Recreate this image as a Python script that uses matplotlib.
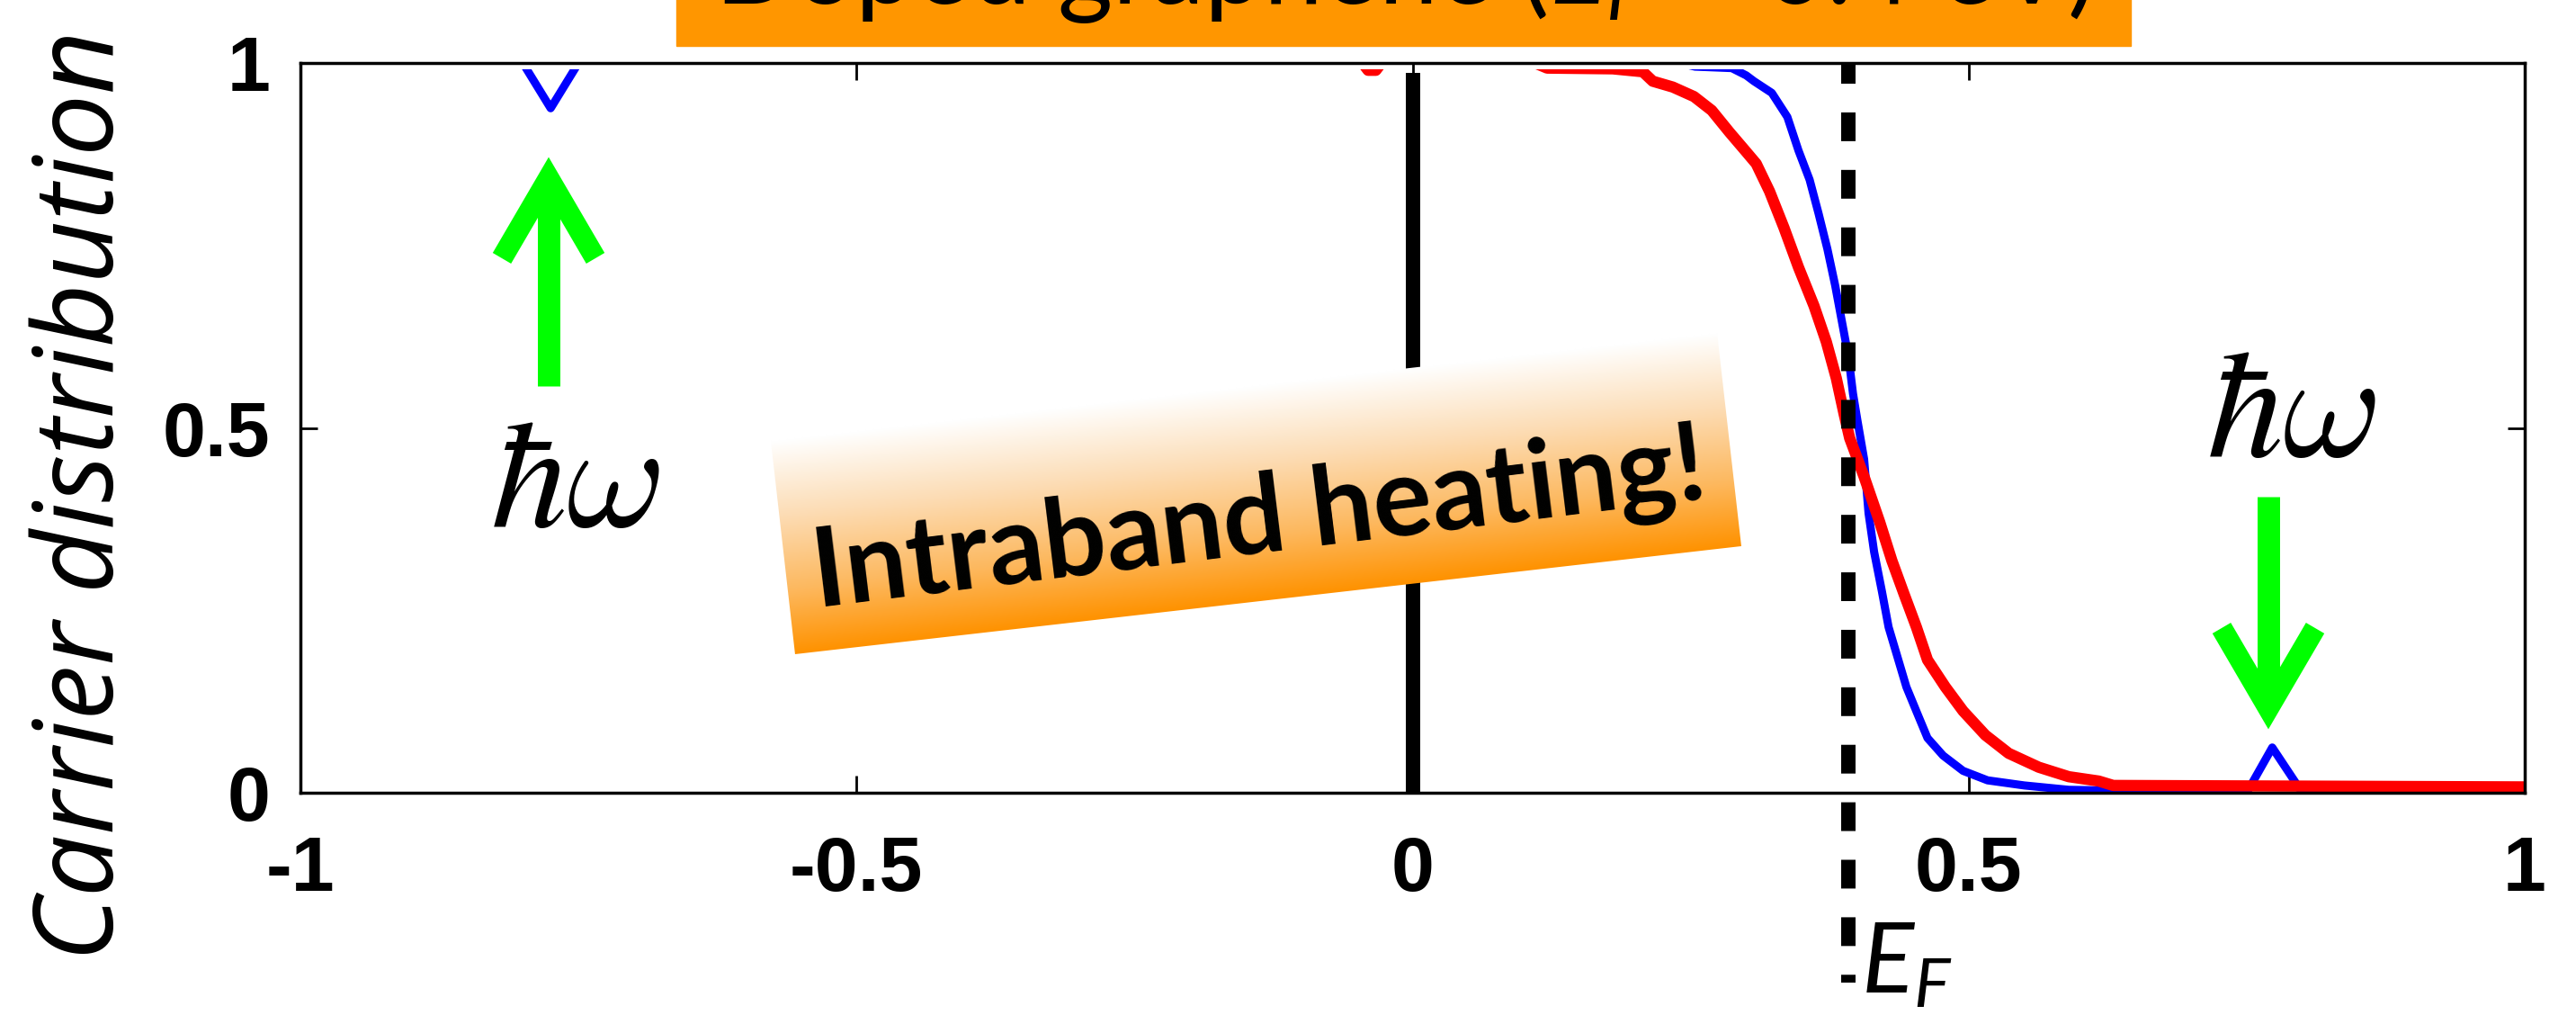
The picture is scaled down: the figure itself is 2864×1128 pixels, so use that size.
import numpy as np
import matplotlib.pyplot as plt
from matplotlib.patches import Rectangle
from matplotlib.transforms import Affine2D, blended_transform_factory
from matplotlib.colors import LinearSegmentedColormap

plt.rcParams['mathtext.fontset'] = 'custom'
plt.rcParams['mathtext.it'] = 'Lato:italic'
plt.rcParams['mathtext.rm'] = 'Lato'

# carrier distribution (energy in eV)
energy_blue = [-1.0, -0.80, -0.775, -0.75, 0.240, 0.254, 0.287, 0.300, 0.307, 0.323,
               0.337, 0.347, 0.357, 0.365, 0.373, 0.380, 0.386, 0.392, 0.396, 0.400,
               0.406, 0.410, 0.415, 0.422, 0.428, 0.436, 0.444, 0.454, 0.463, 0.477,
               0.495, 0.517, 0.550, 0.590, 0.750, 0.773, 0.800, 1.0]
dist_blue = [1.0, 1.0, 0.938, 1.0, 1.0, 0.995, 0.993, 0.983, 0.975, 0.959,
             0.926, 0.880, 0.840, 0.794, 0.745, 0.695, 0.646, 0.597, 0.547, 0.510,
             0.457, 0.383, 0.330, 0.276, 0.227, 0.186, 0.145, 0.108, 0.075, 0.051,
             0.030, 0.017, 0.010, 0.004, 0.0, 0.062, 0.0, 0.0]

energy_red = [-1.0, -0.045, -0.040, -0.033, -0.028, 0.110, 0.121, 0.180, 0.207, 0.216,
              0.234, 0.253, 0.269, 0.285, 0.299, 0.309, 0.321, 0.334, 0.347, 0.361,
              0.372, 0.381, 0.388, 0.393, 0.406, 0.420, 0.431, 0.442, 0.453, 0.463,
              0.479, 0.495, 0.515, 0.536, 0.563, 0.590, 0.617, 0.630, 1.0]
dist_red = [1.0, 1.0, 0.990, 0.990, 1.0, 1.0, 0.993, 0.992, 0.988, 0.975,
            0.967, 0.954, 0.935, 0.905, 0.880, 0.862, 0.824, 0.774, 0.720, 0.667,
            0.618, 0.568, 0.519, 0.486, 0.433, 0.371, 0.318, 0.272, 0.227, 0.182,
            0.145, 0.112, 0.079, 0.054, 0.035, 0.022, 0.016, 0.010, 0.008]

dirac_point = 0.0
fermi_level = 0.392

xticks = [-1, -0.5, 0, 0.5, 1]
xtick_labels = ['-1', '-0.5', '0', '0.5', '1']
yticks = [0, 0.5, 1]
ytick_labels = ['0', '0.5', '1']

W, H = 2864, 1128
fig = plt.figure(figsize=(W / 100, H / 100), dpi=100)
ax = fig.add_axes([334 / W, (H - 881) / H, (2807 - 334) / W, (881 - 70) / H])

l1, = ax.plot(energy_blue, dist_blue, color='#0000ff', lw=6.5)
l2, = ax.plot(energy_red, dist_red, color='#ff0000', lw=9)
# the y=1 plateau sits hidden under the top frame in the original
clip = Rectangle((0, 0), 1, 1 - 6.5 / 811, transform=ax.transAxes)
l1.set_clip_path(clip)
l2.set_clip_path(clip)

ax.axvline(dirac_point, ymin=0, ymax=0.987, color='k', lw=11.5, solid_capstyle='butt')
trans = blended_transform_factory(ax.transData, ax.transAxes)
ax.plot([fermi_level, fermi_level], [1, -0.26], transform=trans, color='k', lw=11.5,
        linestyle=(0.56, (2.0, 2.0)), dash_capstyle='butt', clip_on=False, zorder=3)

ax.set_xlim(-1, 1)
ax.set_ylim(0, 1)
ax.set_xticks(xticks)
ax.set_xticklabels(xtick_labels)
ax.set_yticks(yticks)
ax.set_yticklabels(ytick_labels)
ax.tick_params(direction='in', length=14, width=2, top=True, right=True)
ax.tick_params(axis='x', pad=34)
ax.tick_params(axis='y', pad=24)
for lab in ax.get_xticklabels() + ax.get_yticklabels():
    lab.set_fontfamily(['Liberation Sans', 'DejaVu Sans'])
    lab.set_fontweight('bold')
    lab.set_fontsize(62)
for s in ax.spines.values():
    s.set_linewidth(2.5)

# overlay in pixel coordinates for the annotations
ov = fig.add_axes([0, 0, 1, 1], zorder=5)
ov.axis('off')

ov.add_patch(Rectangle((752, H - 51), 1617, 60, color='#ff9600', clip_on=False))
ov.text(1560, H - 4, 'Doped graphene ($E_F$ = 0.4 eV)', ha='center', va='baseline',
        family='Lato', size=85, clip_on=False)

grad = np.linspace(0, 1, 256).reshape(-1, 1)
cmap = LinearSegmentedColormap.from_list(
    'heat', [(0, '#ffffff'), (0.35, '#fcdcb4'), (0.7, '#fdb85e'), (1, '#ff9200')])
tr = Affine2D().rotate_deg(6.5).translate(884, H - 727) + ov.transData
ov.imshow(grad, cmap=cmap, extent=[0, 1058, 0, 238], origin='upper', aspect='auto',
          transform=tr, interpolation='bilinear')
ov.text(1400, H - 580, 'Intraband heating!', rotation=7, rotation_mode='anchor',
        ha='center', va='center', family='Lato', weight='bold', size=88)

green = '#00ff00'
# left arrow (up)
ov.plot([610, 610], [H - 429, H - 205], color=green, lw=18, solid_capstyle='butt')
ov.plot([558, 610, 662], [H - 287, H - 198, H - 287], color=green, lw=17,
        solid_joinstyle='miter', solid_capstyle='butt')
# right arrow (down)
ov.plot([2522, 2522], [H - 552, H - 780], color=green, lw=18, solid_capstyle='butt')
ov.plot([2470, 2522, 2574], [H - 698, H - 787, H - 698], color=green, lw=17,
        solid_joinstyle='miter', solid_capstyle='butt')

ov.text(640, H - 585, r'$\hbar\omega$', ha='center', va='baseline', size=122,
        math_fontfamily='cm')
ov.text(2548, H - 507, r'$\hbar\omega$', ha='center', va='baseline', size=122,
        math_fontfamily='cm')
ov.text(2069, H - 1103, r'$E_F$', ha='left', va='baseline', size=78)
ov.text(126, H - 1068, 'Carrier distribution', rotation=90, rotation_mode='anchor',
        ha='left', va='baseline', family='Open Sans', style='italic', size=88)

ov.set_xlim(0, W)
ov.set_ylim(0, H)

fig.savefig('out.png', dpi=100)
